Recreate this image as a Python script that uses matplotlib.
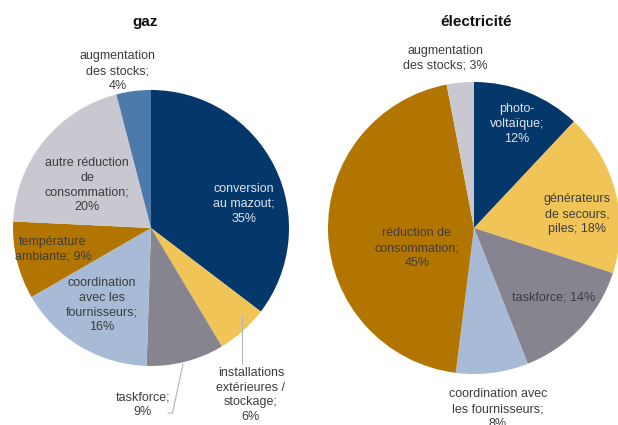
import matplotlib
matplotlib.use('Agg')
import matplotlib.pyplot as plt

# gaz (clockwise from 12 o'clock)
gaz_labels = ['conversion\nau mazout;', 'installations\nextérieures /\nstockage;', 'taskforce;',
              'coordination\navec les\nfournisseurs;', 'température\nambiante;',
              'autre réduction\nde\nconsommation;', 'augmentation\ndes stocks;']
gaz_values = [35, 6, 9, 16, 9, 20, 4]

# électricité
elec_labels = ['photo-\nvoltaïque;', 'générateurs\nde secours,\npiles;', 'taskforce;',
               'coordination avec\nles fournisseurs;', 'réduction de\nconsommation;',
               'augmentation\ndes stocks;']
elec_values = [12, 18, 14, 8, 45, 3]

NAVY = '#05386a'
YELLOW = '#f0c457'
GREY = '#85848f'
LBLUE = '#a7bbd6'
GOLD = '#b27600'
LGREY = '#c9c8d0'
SBLUE = '#4b7aab'

gaz_colors = [NAVY, YELLOW, GREY, LBLUE, GOLD, LGREY, SBLUE]
elec_colors = [NAVY, YELLOW, GREY, LBLUE, GOLD, LGREY]

W, H = 618, 425
TXT = '#3d3d3d'
plt.rcParams['font.family'] = ['Liberation Sans', 'DejaVu Sans']

fig = plt.figure(figsize=(W / 100, H / 100), dpi=100)
ax = fig.add_axes([0, 0, 1, 1])
ax.set_xlim(0, W)
ax.set_ylim(0, H)
ax.set_aspect('equal')
ax.axis('off')


def py(y):
    return H - y


ax.pie(gaz_values, colors=gaz_colors, startangle=90, counterclock=False,
       center=(151, py(228)), radius=138, wedgeprops=dict(linewidth=0))
ax.pie(elec_values, colors=elec_colors, startangle=90, counterclock=False,
       center=(474, py(228)), radius=146, wedgeprops=dict(linewidth=0))
ax.set_xlim(0, W)
ax.set_ylim(0, H)

fs = 9
ls = 1.33


def label(x, y, lab, val, color=TXT, sep='\n'):
    ax.text(x, py(y), lab + sep + f'{val}%', ha='center', va='center',
            fontsize=fs, color=color, linespacing=ls)


# titles
ax.text(145, py(22), 'gaz', ha='center', va='center', fontsize=11, fontweight='bold', color='#111111')
ax.text(476, py(22), 'électricité', ha='center', va='center', fontsize=11, fontweight='bold', color='#111111')

# gaz labels
label(244, 204, gaz_labels[0], gaz_values[0], color='#dfe3ec')
label(251, 395, gaz_labels[1], gaz_values[1])
label(143, 405, gaz_labels[2], gaz_values[2])
label(102, 305, gaz_labels[3], gaz_values[3])
label(53, 249, gaz_labels[4], gaz_values[4], sep=' ')
label(87, 185, gaz_labels[5], gaz_values[5])
label(118, 71, gaz_labels[6], gaz_values[6])

# leader lines
ax.plot([241.5, 241.5], [py(316), py(364)], color='#b5b5b5', lw=0.8)
ax.plot([183, 172.5, 168], [py(364), py(413), py(413)], color='#b5b5b5', lw=0.8)

# électricité labels
label(517, 124, elec_labels[0], elec_values[0], color='#dfe3ec')
label(577, 214, elec_labels[1], elec_values[1], sep=' ')
label(554, 297, elec_labels[2], elec_values[2], sep=' ')
label(498, 409, elec_labels[3], elec_values[3])
label(417, 248, elec_labels[4], elec_values[4])
label(445, 58, elec_labels[5], elec_values[5], sep=' ')

fig.savefig('out.png', dpi=100)
